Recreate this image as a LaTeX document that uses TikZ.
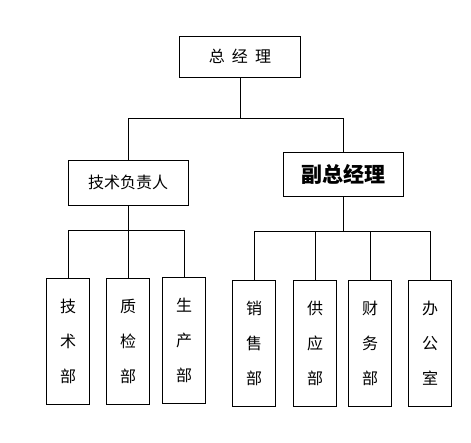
\documentclass[tikz,border=0pt]{standalone}
\usepackage{fontspec}
\newfontfamily\cjk{Noto Sans CJK SC}
\begin{document}
\begin{tikzpicture}[x=1pt,y=1pt,line width=0.9pt,
  box/.style={shape=rectangle,draw=black,line width=0.9pt,inner sep=0pt,font=\cjk\fontsize{16pt}{18pt}\selectfont},
  dept/.style={box,minimum width=43pt,minimum height=126pt,align=center,font=\cjk\fontsize{16pt}{35pt}\selectfont}]
  \useasboundingbox (0,0) rectangle (471,-443);
  \node[box,minimum width=121pt,minimum height=41pt] (zjl) at (240,-56.5) {总\hspace{0.45em}经\hspace{0.45em}理};
  \node[box,minimum width=120pt,minimum height=45pt] (jsfzr) at (128,-182.5) {技术负责人};
  \node[box,minimum width=120pt,minimum height=44pt,font=\cjk\bfseries\fontsize{21pt}{24pt}\selectfont] (fzjl) at (343,-174) {副总经理};
  \node[dept] (jsb) at (68,-341) {技\\术\\部};
  \node[dept] (zjb) at (128,-341) {质\\检\\部};
  \node[dept] (scb) at (184,-340) {生\\产\\部};
  \node[dept] (xsb) at (254,-343) {销\\售\\部};
  \node[dept] (gyb) at (315,-343) {供\\应\\部};
  \node[dept] (cwb) at (370,-343) {财\\务\\部};
  \node[dept] (bgs) at (430,-343) {办\\公\\室};
  \coordinate (j0) at (240,-118);
  \coordinate (j1) at (128,-230);
  \coordinate (j2) at (343,-231);
  \draw (zjl) -- (j0);
  \draw (j0) -| (jsfzr);
  \draw (j0) -| (fzjl);
  \draw (jsfzr) -- (j1);
  \draw (j1) -| (jsb);
  \draw (j1) -- (zjb);
  \draw (j1) -| (scb);
  \draw (fzjl) -- (j2);
  \draw (j2) -| (xsb);
  \draw (j2) -| (gyb);
  \draw (j2) -| (cwb);
  \draw (j2) -| (bgs);
\end{tikzpicture}
\end{document}
